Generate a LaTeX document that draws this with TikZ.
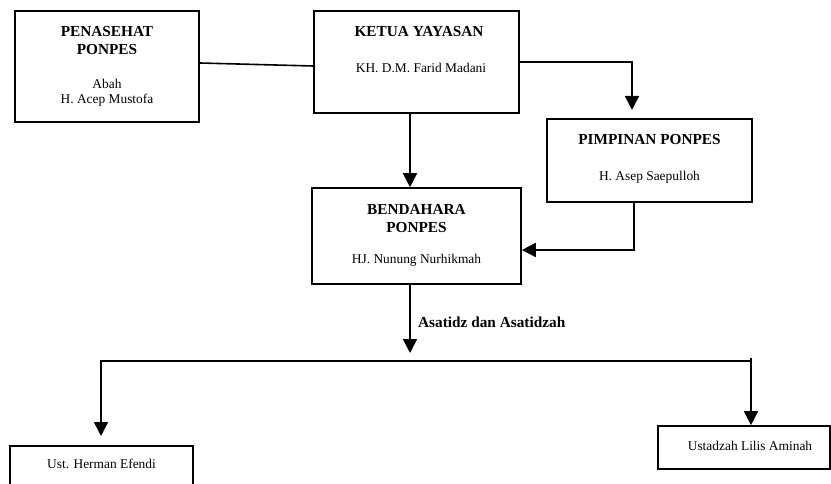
\documentclass[tikz,border=0pt]{standalone}
\usepackage{fontspec}
\setmainfont{Liberation Serif}
\usetikzlibrary{arrows.meta}
\begin{document}
\begin{tikzpicture}[x=1pt,y=-1pt,
  box/.style={draw,line width=1.6pt,inner sep=0pt},
  ttl/.style={font=\fontsize{15.3}{18}\selectfont\bfseries,align=center,inner sep=0pt},
  nm/.style={font=\fontsize{13.4}{14.5}\selectfont,align=center,inner sep=0pt},
  con/.style={line width=1.6pt},
  arr/.style={line width=1.6pt,-{Triangle[width=14pt,length=14pt]}}]
\useasboundingbox (0,0) rectangle (831,484);
\clip (0,0) rectangle (831,484);
% boxes
\node[box,minimum width=184,minimum height=111] (pen) at (107,66.5) {};
\node[box,minimum width=205,minimum height=102] (ket) at (416.5,62) {};
\node[box,minimum width=205,minimum height=83] (pim) at (649.5,160.5) {};
\node[box,minimum width=209,minimum height=96] (ben) at (416.5,236) {};
\node[box,minimum width=183,minimum height=60] (her) at (101.5,476) {};
\node[box,minimum width=172,minimum height=43] (lil) at (744,447.5) {};
% texts
\node[ttl] (penT) at (107,41) {PENASEHAT\\PONPES};
\node[nm] (penN) at (107,93) {Abah\\H. Acep Mustofa};
\node[ttl] (ketT) at (419,32) {KETUA YAYASAN};
\node[nm] (ketN) at (421,68) {KH. D.M. Farid Madani};
\node[ttl] (pimT) at (649.5,140) {PIMPINAN PONPES};
\node[nm] (pimN) at (649.5,177) {H. Asep Saepulloh};
\node[ttl] (benT) at (416.5,218.5) {BENDAHARA\\PONPES};
\node[nm] (benN) at (416.5,260) {HJ. Nunung Nurhikmah};
\node[nm] (herN) at (101.5,464) {Ust. Herman Efendi};
\node[nm] (lilN) at (750,446) {Ustadzah Lilis Aminah};
\node[ttl,anchor=west] (lbl) at (418,322) {Asatidz dan Asatidzah};
% connectors
\coordinate (k2p) at (632,110);
\coordinate (b2bus) at (410,353);
\coordinate (busL) at (101,361);
\coordinate (busR) at (751,361);
\coordinate (busRt) at (751,358);
\coordinate (herTip) at (101,436);
\draw[con] (pen.east |- 0,63) -- (ket.west |- 0,66);
\draw[arr] (ket.east |- 0,62) -| (k2p);
\draw[arr] (ket.south -| 410,0) -- (ben.north -| 410,0);
\draw[arr] (pim.south -| 634,0) |- (ben.east |- 0,250);
\draw[arr] (ben.south -| 410,0) -- (b2bus);
\draw[arr] (busR) -- (busL) -- (herTip);
\draw[arr] (busRt) -- (lil.north -| 751,0);
\end{tikzpicture}
\end{document}
